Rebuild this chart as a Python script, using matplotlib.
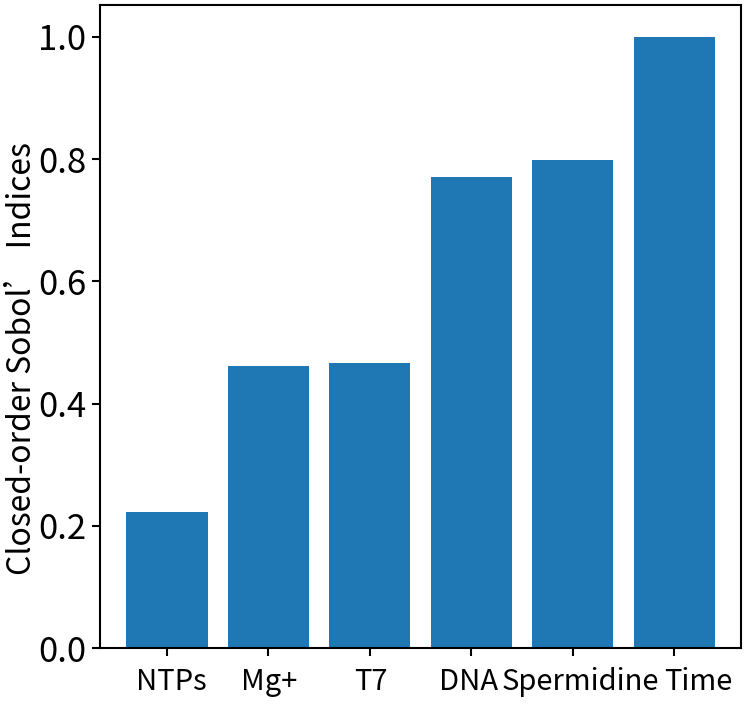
import numpy as np
import matplotlib
matplotlib.use('Agg')
import matplotlib.pyplot as plt
import matplotlib.transforms as mtransforms

plt.rcParams['font.family'] = ['Noto Sans CJK SC', 'DejaVu Sans']

# 데이터
factors = ['NTPs', 'Mg+', 'T7', 'DNA', 'Spermidine', 'Time']
indices = [0.222, 0.462, 0.466, 0.771, 0.798, 1.0]

fig = plt.figure(figsize=(7.47, 7.04), dpi=100)
ax = fig.add_axes([0.1339, 0.0795, 0.8581, 0.9134])

x = np.arange(len(factors))
ax.bar(x, indices, width=0.8, color='#1f77b4')

ax.set_xticks(x)
ax.set_xticklabels(factors, fontsize=21)
ax.set_xlim(-0.66, 5.66)
ax.set_ylim(0, 1.052)
ax.set_yticks([0.0, 0.2, 0.4, 0.6, 0.8, 1.0])
ax.set_yticklabels(['0.0', '0.2', '0.4', '0.6', '0.8', '1.0'], fontsize=25)

ax.tick_params(axis='both', direction='out', length=6, width=1.5)
ax.tick_params(axis='x', pad=8)
ax.tick_params(axis='y', pad=4)
for s in ax.spines.values():
    s.set_linewidth(1.5)

# 라벨 위치 약간 이동 (원본처럼)
shifts = [4, 1, 1, -3, 8, 24]
for lab, dx in zip(ax.get_xticklabels(), shifts):
    off = mtransforms.ScaledTranslation(dx / 100, 0, fig.dpi_scale_trans)
    lab.set_transform(lab.get_transform() + off)

ax.set_ylabel('Closed-order Sobol’ Indices', fontsize=23)
ax.yaxis.set_label_coords(-0.097, 0.45)

fig.savefig('out.png', dpi=100)
